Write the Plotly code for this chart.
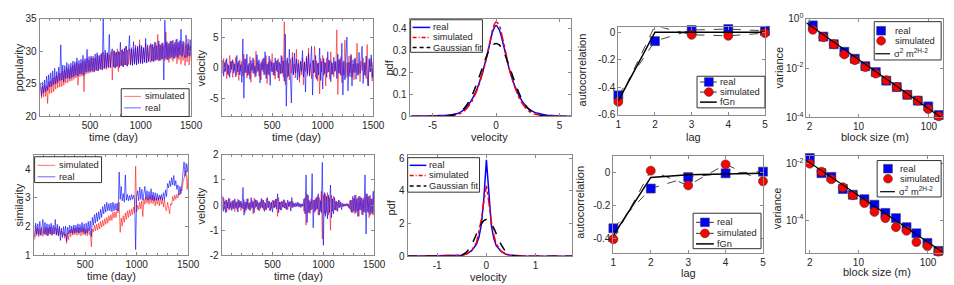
import numpy as np
import plotly.graph_objects as go

W, H = 954, 285
FONT = "Liberation Sans, Arial, sans-serif"
TXT = "#262626"

# ---------------- data ----------------
day_step = 10
pop_real = [25.0, 23.2, 25.3, 23.6, 25.6, 23.8, 26.2, 24.0, 26.4, 24.5,
            26.7, 24.6, 27.0, 24.9, 27.4, 25.0, 26.9, 25.2, 27.6, 25.5,
            31.0, 25.6, 27.9, 25.3, 27.8, 25.8, 28.3, 25.9, 28.0, 25.8,
            28.2, 26.0, 28.5, 26.1, 28.4, 26.3, 29.0, 26.2, 28.6, 26.5,
            28.8, 26.5, 29.4, 26.3, 28.9, 26.8, 30.3, 26.9, 29.2, 26.9,
            29.3, 27.0, 29.0, 26.8, 29.6, 27.1, 29.8, 27.0, 29.4, 27.3,
            29.7, 27.2, 35.0, 27.4, 30.2, 27.5, 29.8, 27.6, 32.6, 27.5,
            29.9, 30.4, 27.6, 30.1, 27.4, 29.9, 27.7, 30.0, 27.5, 31.4,
            27.8, 30.3, 27.6, 30.5, 27.9, 30.8, 27.7, 30.2, 32.4, 27.9,
            30.4, 27.8, 31.5, 28.0, 30.6, 27.9, 30.8, 28.1, 31.0, 28.2,
            30.9, 28.1, 30.6, 28.3, 32.0, 28.2, 31.0, 28.4, 30.5, 31.2,
            28.5, 31.1, 28.4, 31.4, 28.6, 30.9, 28.7, 31.6, 28.6, 31.0,
            28.8, 31.3, 25.6, 34.8, 28.9, 31.5, 28.7, 31.2, 29.0, 31.6,
            29.1, 31.7, 28.9, 31.4, 29.2, 31.9, 29.0, 31.5, 29.4, 33.4,
            29.2, 31.6, 29.5, 29.0, 32.5, 29.1, 31.2, 29.3, 31.8, 29.2]
pop_sim = [24.5, 22.8, 24.6, 23.0, 24.9, 23.1, 24.7, 22.0, 25.3, 23.5,
           25.5, 23.6, 25.9, 23.8, 26.1, 24.2, 26.3, 24.4, 26.6, 24.5,
           26.7, 24.6, 27.0, 24.8, 27.1, 25.1, 27.5, 25.2, 27.3, 25.4,
           27.6, 25.5, 27.9, 25.7, 28.0, 25.9, 28.3, 24.8, 28.1, 26.1,
           28.2, 26.2, 28.6, 23.8, 28.5, 26.5, 28.9, 26.6, 28.7, 26.7,
           29.0, 26.8, 29.3, 26.9, 29.0, 27.0, 29.4, 27.0, 29.2, 27.2,
           29.5, 27.1, 29.9, 27.3, 29.6, 27.2, 29.8, 27.4, 29.5, 27.5,
           29.9, 25.6, 30.1, 27.5, 29.8, 27.6, 30.4, 26.9, 29.9, 27.8,
           30.2, 27.7, 30.0, 27.9, 30.8, 27.8, 30.2, 28.0, 30.4, 27.9,
           30.6, 28.0, 30.3, 28.2, 31.0, 28.0, 30.5, 28.3, 31.8, 28.1,
           30.7, 28.3, 30.4, 28.4, 31.2, 28.3, 30.6, 28.5, 30.9, 28.3,
           31.0, 28.5, 30.7, 28.6, 31.4, 28.7, 32.6, 28.5, 31.1, 28.6,
           31.3, 28.8, 30.9, 28.6, 33.0, 28.7, 31.2, 28.3, 31.5, 28.8,
           31.6, 28.5, 31.1, 28.9, 31.8, 28.1, 31.3, 28.7, 31.7, 28.0,
           31.2, 28.6, 31.4, 27.8, 31.0, 28.4, 31.9, 27.9, 30.8, 28.5]
vel_pop_real = [1.2, -1.4, 0.8, -0.6, 1.5, -1.1, 0.4, -1.6, 1.0, -0.3,
                1.3, -0.9, 0.6, -1.5, 2.0, -0.7, 1.1, -1.2, 0.5, -2.4,
                4.7, -5.0, 1.4, -0.8, 2.2, -1.3, 0.7, -1.9, 1.2, -0.5,
                1.6, -1.0, 0.3, -1.4, 2.1, -0.6, 1.3, -2.5, 0.9, -0.4,
                1.5, -1.2, 2.6, -1.8, 0.6, -1.1, 1.9, -2.9, 1.0, -0.7,
                0.8, -1.3, 1.6, -0.5, 1.2, -1.7, 0.9, -1.0, 2.0, -0.9,
                1.1, -2.2, 5.5, -6.3, 1.6, -1.4, 3.0, -0.8, -5.8, 1.7,
                -1.2, 2.4, -0.9, 1.4, -2.0, 0.7, -1.6, 1.1, -0.6, 2.8,
                -1.5, 0.9, -4.0, 1.6, -1.0, 2.3, -1.4, 0.6, 3.5, -4.5,
                1.2, -0.8, 2.0, -1.9, 0.7, -1.2, 3.2, -2.1, 1.0, -3.5,
                1.5, -1.0, 0.8, -1.6, 2.6, -0.7, 1.2, -2.3, 0.9, -1.1,
                1.7, -0.6, 1.0, -1.8, 2.2, -0.9, 1.4, -1.3, 4.0, -4.5,
                1.1, -2.0, 1.8, 5.0, -3.8, 0.9, -1.5, 2.0, -3.0, 1.3,
                -0.8, 1.6, -1.9, 0.7, -1.2, 2.5, -0.9, 1.4, 3.5, -2.6,
                0.8, -1.3, 1.9, -1.0, -3.0, 1.5, -0.7, 2.1, -1.6, 1.0]
vel_pop_sim = [-1.0, 1.5, -0.7, 1.2, -1.8, 0.6, -1.3, 2.0, -0.8, 1.1,
               -1.6, 0.9, -0.5, 1.7, -1.2, 0.8, -2.1, 1.3, -0.6, 1.0,
               -1.4, 2.2, -0.9, 1.5, -1.7, 0.4, -1.1, 1.8, -2.4, 0.7,
               -0.9, 1.3, -1.6, 2.7, -0.8, 1.0, -1.4, 0.6, -2.0, 1.2,
               -0.7, 1.6, -1.1, 2.0, -2.6, 0.9, -1.3, 1.4, -0.6, 2.3,
               -1.2, 0.8, -1.9, 1.1, -0.7, 1.5, -2.2, 0.6, -1.0, 1.8,
               -1.5, 7.5, -2.8, 1.2, -1.6, 0.7, -2.0, 1.4, -0.9, 2.5,
               -1.1, 0.6, -1.7, 3.0, -0.8, 1.3, -2.4, 0.9, -1.2, 1.6,
               -2.8, 1.0, -0.6, 1.9, -1.4, 3.2, -1.0, 0.7, -1.8, 1.2,
               -0.9, 3.5, -1.6, 1.1, -2.2, 0.8, -4.3, 1.5, -0.7, 2.0,
               -1.3, 0.9, -3.0, 1.6, -0.8, 1.2, -1.9, 2.6, -1.1, 0.7,
               -1.5, 1.0, -0.6, 6.2, -4.4, 1.3, -1.0, 1.8, -2.5, 0.9,
               -1.2, 4.5, -1.7, 0.8, -1.4, 1.9, -0.9, 2.2, -1.6, 0.6,
               -2.0, 1.4, -0.8, 4.0, -1.3, 0.7, -2.3, 1.1, -0.5, 1.6,
               -1.2, 0.9, -1.8, 3.8, -3.0, 1.2, -0.7, 1.5, -2.2, 0.8]
simil_real = [1.65, 2.12, 1.75, 2.10, 1.72, 2.18, 1.70, 2.05, 2.25, 1.75,
              2.15, 1.72, 2.10, 1.68, 2.08, 1.75, 2.12, 1.70, 2.05, 1.74,
              2.25, 1.72, 2.08, 1.68, 2.02, 1.52, 1.95, 1.62, 2.00, 1.68,
              2.02, 1.50, 1.98, 1.75, 2.05, 1.78, 2.02, 1.75, 2.06, 1.78,
              2.05, 1.80, 2.10, 1.78, 2.08, 1.82, 2.15, 1.80, 2.10, 1.75,
              2.12, 1.78, 2.18, 1.85, 2.20, 1.65, 2.32, 2.05, 2.42, 2.12,
              2.48, 2.18, 2.52, 2.25, 2.60, 2.32, 2.70, 2.45, 2.78, 2.50,
              2.85, 2.55, 2.80, 2.55, 2.82, 2.52, 2.85, 2.55, 2.80, 2.58,
              2.82, 2.55, 3.90, 2.95, 3.40, 2.90, 3.15, 2.85, 3.80, 2.92,
              3.12, 2.90, 3.08, 2.92, 3.12, 2.95, 3.10, 2.95, 1.20, 3.05,
              3.25, 2.90, 3.38, 2.95, 3.30, 2.92, 3.22, 3.40, 2.95, 3.25,
              2.92, 3.22, 2.95, 3.32, 2.92, 3.20, 2.90, 3.18, 2.92, 3.15,
              2.92, 3.10, 2.95, 3.12, 2.92, 3.18, 2.95, 3.28, 3.05, 3.50,
              3.35, 3.60, 3.40, 3.70, 3.45, 3.78, 3.42, 3.60, 3.30, 3.45,
              3.10, 3.40, 3.15, 3.55, 3.90, 4.25, 3.75, 4.20, 3.90, 4.20]
simil_sim = [1.55, 1.98, 1.68, 1.95, 1.65, 1.92, 1.70, 1.98, 1.66, 1.92,
             1.72, 1.98, 1.68, 1.95, 1.74, 2.00, 1.70, 1.96, 1.75, 1.90,
             1.98, 1.70, 1.94, 1.68, 1.96, 1.72, 1.85, 1.70, 1.80, 1.60,
             1.75, 1.42, 1.78, 1.55, 1.88, 1.65, 1.92, 1.70, 1.96, 1.72,
             1.95, 1.70, 1.98, 1.72, 1.95, 1.68, 1.98, 1.72, 1.94, 1.70,
             1.90, 1.68, 1.95, 1.72, 1.85, 1.30, 1.92, 1.82, 2.05, 1.85,
             2.08, 1.88, 2.12, 1.92, 2.18, 1.98, 2.22, 2.02, 2.28, 2.08,
             2.32, 2.12, 2.38, 2.20, 2.42, 2.22, 2.50, 2.30, 2.52, 2.32,
             2.62, 2.48, 2.85, 1.80, 2.30, 2.02, 2.38, 2.15, 2.48, 2.25,
             2.55, 2.32, 2.58, 2.38, 2.62, 2.42, 2.68, 2.48, 4.10, 2.52,
             2.75, 2.60, 2.85, 2.62, 2.90, 2.35, 2.98, 2.78, 3.05, 2.82,
             3.02, 2.78, 3.08, 2.82, 3.10, 2.80, 3.05, 2.72, 3.00, 2.78,
             3.02, 2.72, 3.05, 2.78, 3.00, 2.68, 2.95, 2.62, 2.55, 2.85,
             2.68, 2.45, 2.80, 2.75, 3.05, 2.90, 3.10, 2.95, 3.12, 3.00,
             3.15, 3.10, 3.30, 3.25, 3.55, 3.70, 3.80, 3.95, 3.30, 3.80]
vel_sim_real = [0.35, -0.25, 0.15, -0.30, 0.20, -0.12, 0.28, -0.18, 0.10, -0.22,
                0.18, -0.15, 0.25, -0.10, 0.14, -0.28, 0.20, -0.08, 0.16, -0.12,
                0.70, -0.40, 0.12, -0.20, 0.25, -0.15, 0.08, -0.22, 0.30, -0.10,
                0.14, -0.30, 0.22, -0.06, 0.18, -0.20, 0.10, -0.14, 0.26, -0.12,
                0.20, -0.25, 0.08, -0.18, 0.30, -0.10, 0.15, -0.22, 0.12, -0.28,
                0.18, -0.10, 0.24, -0.16, 0.45, -0.30, 0.12, -0.20, 0.16, -0.08,
                0.22, -0.12, 0.10, -0.18, 0.20, -0.06, 0.14, -0.24, 0.30, -0.10,
                0.08, -0.06, 0.10, -0.05, 0.12, -0.08, 0.06, -0.10, 0.05, -0.04,
                0.25, -0.35, 1.20, -0.70, 0.40, -0.30, 0.15, -0.20, 1.25, -0.90,
                0.20, -0.25, 0.30, -0.15, 0.45, -0.40, 0.18, -0.30, 1.70, -1.60,
                0.50, -0.45, 0.35, -0.55, 0.40, -0.30, 0.80, -0.50, 0.25, -0.35,
                0.30, -0.20, 0.15, -0.25, 0.20, -0.10, 0.12, -0.18, 0.08, -0.06,
                0.05, -0.04, 0.06, -0.05, 0.04, -0.15, 0.20, -0.30, 0.35, -0.25,
                0.40, -0.30, 0.25, -0.45, 0.35, -0.20, 0.30, -0.38, 0.22, -0.28,
                1.20, -1.15, 0.45, -0.30, 0.35, -0.40, 0.25, -0.35, 0.55, -0.30]
vel_sim_sim = [-0.20, 0.30, -0.15, 0.22, -0.28, 0.12, -0.18, 0.25, -0.10, 0.16,
               -0.14, 0.20, -0.26, 0.10, -0.18, 0.24, -0.12, 0.15, -0.22, 0.08,
               -0.16, 0.22, -0.30, 0.14, -0.10, 0.26, -0.20, 0.12, -0.15, 0.18,
               -0.35, 0.28, -0.12, 0.20, -0.16, 0.10, -0.24, 0.15, -0.08, 0.22,
               -0.18, 0.12, -0.20, 0.26, -0.10, 0.16, -0.22, 0.08, -0.14, 0.20,
               -0.12, 0.18, -0.08, 0.25, -0.45, 0.30, -0.16, 0.12, -0.20, 0.14,
               -0.10, 0.20, -0.15, 0.08, -0.18, 0.12, -0.06, 0.16, -0.10, 0.14,
               -0.06, 0.05, -0.08, 0.06, -0.04, 0.07, -0.05, 0.04, -0.06, 0.05,
               -0.25, 0.30, -0.80, 0.45, -0.30, 0.20, -0.35, 0.25, -0.15, 0.20,
               -0.30, 0.25, -0.20, 0.35, -0.40, 0.30, -0.25, 0.55, -1.35, 0.40,
               -0.35, 0.45, -0.30, 0.50, -0.40, 0.30, -1.00, 0.40, -0.25, 0.35,
               -0.20, 0.15, -0.22, 0.12, -0.10, 0.18, -0.08, 0.06, -0.05, 0.04,
               -0.04, 0.05, -0.03, 0.06, -0.12, 0.18, -0.25, 0.20, -0.30, 0.28,
               -0.35, 0.40, -0.25, 0.30, -0.45, 0.35, -0.20, 0.28, -0.40, 0.30,
               -0.30, 0.45, -0.25, 0.35, -0.50, 0.40, -0.30, 0.25, -0.40, 0.60]

pdf1_x = [-6.7, -6, -5, -4.5, -4, -3.5, -3, -2.5, -2, -1.5, -1, -0.75, -0.5, -0.25, 0,
          0.25, 0.5, 0.75, 1, 1.5, 2, 2.5, 3, 3.5, 4, 4.5, 5, 5.9]
pdf1_real = [0.001, 0.002, 0.003, 0.004, 0.005, 0.008, 0.014, 0.032, 0.068, 0.125, 0.215, 0.27, 0.33, 0.39, 0.415,
             0.395, 0.345, 0.285, 0.225, 0.135, 0.075, 0.038, 0.02, 0.012, 0.006, 0.004, 0.002, 0.001]
pdf1_sim = [0.0, 0.001, 0.002, 0.002, 0.003, 0.005, 0.01, 0.025, 0.06, 0.12, 0.21, 0.27, 0.335, 0.40, 0.43,
            0.415, 0.36, 0.295, 0.225, 0.13, 0.065, 0.028, 0.012, 0.006, 0.003, 0.002, 0.001, 0.0]
pdf1_gauss = [0.0, 0.0, 0.0, 0.0003, 0.001, 0.005, 0.015, 0.038, 0.083, 0.153, 0.235, 0.274, 0.306, 0.326, 0.333,
              0.326, 0.306, 0.274, 0.235, 0.153, 0.083, 0.038, 0.015, 0.005, 0.001, 0.0003, 0.0, 0.0]

pdf2_x = [-1.6, -1.2, -0.8, -0.6, -0.5, -0.4, -0.3, -0.2, -0.15, -0.1, -0.05, 0,
          0.05, 0.1, 0.15, 0.2, 0.3, 0.4, 0.5, 0.6, 0.8, 1.2, 1.74]
pdf2_real = [0.0, 0.01, 0.02, 0.04, 0.07, 0.15, 0.35, 0.75, 1.2, 2.0, 3.6, 5.9,
             3.6, 1.9, 1.1, 0.65, 0.3, 0.13, 0.06, 0.04, 0.02, 0.01, 0.0]
pdf2_sim = [0.0, 0.01, 0.02, 0.04, 0.07, 0.14, 0.35, 0.85, 1.5, 2.3, 3.4, 4.3,
            3.3, 2.1, 1.3, 0.75, 0.3, 0.12, 0.06, 0.03, 0.015, 0.005, 0.0]
pdf2_gauss = [0.0, 0.0, 0.0, 0.02, 0.08, 0.28, 0.72, 1.38, 1.72, 2.0, 2.18, 2.25,
              2.18, 2.0, 1.72, 1.38, 0.72, 0.28, 0.08, 0.02, 0.0, 0.0, 0.0]

lags = [1, 2, 3, 4, 5]
ac1_real = [-0.46, -0.065, 0.016, 0.023, 0.01]
ac1_sim = [-0.507, 0.047, -0.019, -0.026, -0.007]
ac1_fgn = [-0.5, 0.0, 0.0, 0.0, 0.0]
ac2_real = [-0.338, -0.098, -0.029, -0.006, 0.004]
ac2_sim = [-0.404, 0.01, -0.079, 0.048, -0.054]
ac2_fgn = [-0.38, -0.031, -0.015, -0.008, -0.005]

m1 = [2.23, 3.15, 4.44, 6.27, 8.84, 12.5, 17.6, 24.8, 35.0, 49.4, 69.7, 98.3, 138.7]
var1_real = [0.54, 0.19, 0.093, 0.046, 0.024, 0.012, 0.0069, 0.0031, 0.0017, 0.00083, 0.00048, 0.00028, 0.000126]
var1_sim = [0.36, 0.18, 0.093, 0.036, 0.021, 0.011, 0.006, 0.0032, 0.0017, 0.00083, 0.00048, 0.00022, 0.000112]
fit1_m = [1.8, 150]
fit1_v = [0.69, 1.0e-4]
m2 = [2.0, 2.94, 4.08, 5.98, 8.3, 12.2, 17.0, 24.4, 34.6, 49.2, 68.2, 98.2, 141]
var2_real = [0.0158, 0.0046, 0.0034, 0.00126, 0.00079, 0.00055, 0.00035, 0.00018, 0.000117, 5.6e-5, 3.4e-5, 1.55e-5, 8.1e-6]
var2_sim = [0.01, 0.0052, 0.0028, 0.00145, 0.00076, 0.0004, 0.000195, 0.000117, 5.6e-5, 4.2e-5, 1.66e-5, 1.2e-5, 7.6e-6]
fit2_m = [1.79, 160]
fit2_v = [0.0129, 7.6e-6]

days = np.arange(1, len(pop_real) + 1) * day_step

RED_T = "rgba(255,0,0,0.55)"
BLUE_T = "rgba(0,0,255,0.6)"

fig = go.Figure()

def ax(n):
    return ("x" if n == 1 else f"x{n}"), ("y" if n == 1 else f"y{n}")

def add(n, clip=True, **kw):
    xa, ya = ax(n)
    fig.add_trace(go.Scatter(xaxis=xa, yaxis=ya, showlegend=False, hoverinfo="skip",
                             cliponaxis=clip, **kw))

SQ = dict(symbol="square", size=9, color="#0000ff", line=dict(color="#444", width=0.6))
CI = dict(symbol="circle", size=9, color="#ff0000", line=dict(color="#333", width=0.6))

# panel 1 popularity
add(1, x=days, y=pop_sim, mode="lines", line=dict(color=RED_T, width=1))
add(1, x=days, y=pop_real, mode="lines", line=dict(color=BLUE_T, width=1))
# panel 2 velocity
add(2, x=days, y=vel_pop_sim, mode="lines", line=dict(color=RED_T, width=1))
add(2, x=days, y=vel_pop_real, mode="lines", line=dict(color=BLUE_T, width=1))
# panel 3 pdf
add(3, x=pdf1_x, y=pdf1_real, mode="lines", line=dict(color="#0000ff", width=1.5, shape="spline"))
add(3, x=pdf1_x, y=pdf1_sim, mode="lines", line=dict(color="#ff0000", width=1.5, dash="dashdot", shape="spline"))
add(3, x=pdf1_x, y=pdf1_gauss, mode="lines", line=dict(color="#000000", width=1.5, dash="dash", shape="spline"))
# panel 4 autocorrelation
add(4, clip=False, x=lags, y=ac1_real, mode="lines+markers", line=dict(color="#444", width=1, dash="dash"), marker=SQ)
add(4, clip=False, x=lags, y=ac1_sim, mode="lines+markers", line=dict(color="#444", width=1, dash="dash"), marker=CI)
add(4, x=lags, y=ac1_fgn, mode="lines", line=dict(color="#000", width=1.5))
# panel 5 variance
add(5, clip=False, x=m1, y=var1_real, mode="markers", marker=SQ)
add(5, clip=False, x=m1, y=var1_sim, mode="markers", marker=CI)
add(5, x=fit1_m, y=fit1_v, mode="lines", line=dict(color="#000", width=1.2))
# panel 6 similarity
add(6, x=days, y=simil_sim, mode="lines", line=dict(color=RED_T, width=1))
add(6, x=days, y=simil_real, mode="lines", line=dict(color=BLUE_T, width=1))
# panel 7 velocity
add(7, x=days, y=vel_sim_sim, mode="lines", line=dict(color=RED_T, width=1))
add(7, x=days, y=vel_sim_real, mode="lines", line=dict(color=BLUE_T, width=1))
# panel 8 pdf
add(8, x=pdf2_x, y=pdf2_real, mode="lines", line=dict(color="#0000ff", width=1.5))
add(8, x=pdf2_x, y=pdf2_sim, mode="lines", line=dict(color="#ff0000", width=1.5, dash="dashdot"))
add(8, x=pdf2_x, y=pdf2_gauss, mode="lines", line=dict(color="#000000", width=1.5, dash="dash", shape="spline"))
# panel 9 autocorrelation
add(9, clip=False, x=lags, y=ac2_real, mode="lines+markers", line=dict(color="#444", width=1, dash="dash"), marker=SQ)
add(9, clip=False, x=lags, y=ac2_sim, mode="lines+markers", line=dict(color="#444", width=1, dash="dash"), marker=CI)
add(9, x=lags, y=ac2_fgn, mode="lines", line=dict(color="#000", width=1.5))
# panel 10 variance
add(10, clip=False, x=m2, y=var2_real, mode="markers", marker=SQ)
add(10, clip=False, x=m2, y=var2_sim, mode="markers", marker=CI)
add(10, x=fit2_m, y=fit2_v, mode="lines", line=dict(color="#000", width=1.2))

# ---------------- axes ----------------
boxes = {
    1: (29, 183, 5, 107), 2: (214, 368, 5, 107), 3: (405, 569, 5, 107),
    4: (617, 766, 14, 105), 5: (808, 947, 5, 108),
    6: (23, 180, 147, 252), 7: (214, 369, 147, 252), 8: (403, 570, 147, 253),
    9: (612, 764, 148, 250), 10: (808, 947, 148, 249),
}

def base(**kw):
    d = dict(showline=True, linecolor="#8a8a8a", linewidth=1, mirror="ticks", ticks="inside",
             ticklen=3, tickcolor="#8a8a8a", tickfont=dict(size=10, color=TXT, family=FONT),
             showgrid=False, zeroline=False, fixedrange=True)
    d.update(kw)
    return d

def lab(vals):
    return [("-" + str(abs(v))) if v < 0 else str(v) for v in vals]

time_x = dict(range=[0, 1500], tickvals=[500, 1000, 1500], ticktext=["500", "1000", "1500"],
              minor=dict(ticks="inside", ticklen=2, tickcolor="#8a8a8a", dtick=100))
xcfg = {
    1: time_x, 2: time_x, 6: time_x, 7: time_x,
    3: dict(range=[-6.8, 5.9], tickvals=[-5, 0, 5], ticktext=lab([-5, 0, 5])),
    8: dict(range=[-1.6, 1.74], tickvals=[-1, 0, 1], ticktext=lab([-1, 0, 1])),
    4: dict(range=[1, 5], tickvals=lags, ticktext=[str(v) for v in lags]),
    9: dict(range=[1, 5], tickvals=lags, ticktext=[str(v) for v in lags]),
    5: dict(type="log", range=[np.log10(1.8), np.log10(160)], tickvals=[2, 10, 100], ticktext=["2", "10", "100"]),
    10: dict(type="log", range=[np.log10(1.78), np.log10(165)], tickvals=[2, 10, 100], ticktext=["2", "10", "100"]),
}
ycfg = {
    1: dict(range=[20, 35], tickvals=[20, 25, 30, 35], ticktext=["20", "25", "30", "35"]),
    2: dict(range=[-8, 8], tickvals=[-5, 0, 5], ticktext=lab([-5, 0, 5])),
    3: dict(range=[0, 0.445], tickvals=[0, 0.1, 0.2, 0.3, 0.4], ticktext=["0", "0.1", "0.2", "0.3", "0.4"]),
    4: dict(range=[-0.6, 0.035], tickvals=[-0.6, -0.4, -0.2, 0], ticktext=lab([-0.6, -0.4, -0.2, 0])),
    5: dict(type="log", range=[-4, 0], tickvals=[1e-4, 1e-2, 1],
            ticktext=["10<sup>-4</sup>", "10<sup>-2</sup>", "10<sup>0</sup>"]),
    6: dict(range=[1, 4.5], tickvals=[1, 2, 3, 4], ticktext=["1", "2", "3", "4"]),
    7: dict(range=[-2, 2], tickvals=[-2, -1, 0, 1, 2], ticktext=lab([-2, -1, 0, 1, 2])),
    8: dict(range=[0, 6.2], tickvals=[0, 2, 4, 6], ticktext=["0", "2", "4", "6"]),
    9: dict(range=[-0.49, 0.1], tickvals=[-0.4, -0.2, 0], ticktext=lab([-0.4, -0.2, 0])),
    10: dict(type="log", range=[-5.15, -1.72], tickvals=[1e-4, 1e-2],
             ticktext=["10<sup>-4</sup>", "10<sup>-2</sup>"]),
}

layout_axes = {}
for n, (l, r, t, b) in boxes.items():
    xa = "xaxis" if n == 1 else f"xaxis{n}"
    ya = "yaxis" if n == 1 else f"yaxis{n}"
    xid, yid = ax(n)
    layout_axes[xa] = base(domain=[l / W, r / W], anchor=yid, **xcfg[n])
    layout_axes[ya] = base(domain=[1 - b / H, 1 - t / H], anchor=xid, **ycfg[n])

# ---------------- annotations / legends ----------------
shapes, annos = [], []
LS = 9.3

def text(x, y, s, rot=False, anchor="center", size=11):
    annos.append(dict(xref="paper", yref="paper", x=x / W, y=1 - y / H, text=s, showarrow=False,
                      xanchor=anchor, yanchor="middle", textangle=-90 if rot else 0,
                      font=dict(size=size, color=TXT, family=FONT)))

def box(x0, y0, x1, y1):
    shapes.append(dict(type="rect", xref="paper", yref="paper", x0=x0 / W, x1=x1 / W,
                       y0=1 - y1 / H, y1=1 - y0 / H, line=dict(color="#333", width=1),
                       fillcolor="white", layer="above"))

def seg(x0, x1, y, color, width=1, dash="solid"):
    shapes.append(dict(type="line", xref="paper", yref="paper", x0=x0 / W, x1=x1 / W,
                       y0=1 - y / H, y1=1 - y / H, line=dict(color=color, width=width, dash=dash),
                       layer="above"))

def sq(cx, cy, s=9):
    shapes.append(dict(type="rect", xref="paper", yref="paper", x0=(cx - s / 2) / W, x1=(cx + s / 2) / W,
                       y0=1 - (cy + s / 2) / H, y1=1 - (cy - s / 2) / H,
                       line=dict(color="#444", width=0.6), fillcolor="#0000ff", layer="above"))

def circ(cx, cy, s=9):
    shapes.append(dict(type="circle", xref="paper", yref="paper", x0=(cx - s / 2) / W, x1=(cx + s / 2) / W,
                       y0=1 - (cy + s / 2) / H, y1=1 - (cy - s / 2) / H,
                       line=dict(color="#333", width=0.6), fillcolor="#ff0000", layer="above"))

# axis titles
text(8, 56, "popularity", rot=True)
text(104, 128, "time (day)")
text(193, 56, "velocity", rot=True)
text(290, 128, "time (day)")
text(384, 56, "pdf", rot=True)
text(486, 128, "velocity")
text(580, 58, "autocorrelation", rot=True)
text(693, 128, "lag")
text(780, 56, "variance", rot=True)
text(878, 128, "block size (m)")
text(8, 199, "similarity", rot=True)
text(102, 274, "time (day)")
text(193, 200, "velocity", rot=True)
text(292, 274, "time (day)")
text(387, 202, "pdf", rot=True)
text(485, 275, "velocity")
text(578, 196, "autocorrelation", rot=True)
text(688, 270, "lag")
text(779, 203, "variance", rot=True)
text(880, 269, "block size (m)")

# legend 1
box(112, 78, 181, 107)
seg(115, 132, 86, RED_T); text(134, 86, "simulated", anchor="left", size=LS)
seg(115, 132, 98, BLUE_T); text(134, 98, "real", anchor="left", size=LS)
# legend 6
box(24, 149, 92, 176)
seg(27, 45, 158, RED_T); text(47, 158, "simulated", anchor="left", size=LS)
seg(27, 45, 170, BLUE_T); text(47, 170, "real", anchor="left", size=LS)
# legend 3
box(406, 6, 479, 40)
seg(408, 426, 14, "#0000ff", 1.5); text(427, 14, "real", anchor="left", size=LS)
seg(408, 426, 24.5, "#ff0000", 1.5, "4px,2px,1px,2px"); text(427, 24.5, "simulated", anchor="left", size=LS)
seg(408, 426, 35, "#000", 1.5, "4px,3px"); text(427, 35, "Gaussian fit", anchor="left", size=LS)
# legend 8
box(403, 150, 476, 186)
seg(405, 422, 158, "#0000ff", 1.5); text(423, 158, "real", anchor="left", size=LS)
seg(405, 422, 168.5, "#ff0000", 1.5, "4px,2px,1px,2px"); text(423, 168.5, "simulated", anchor="left", size=LS)
seg(405, 422, 179.5, "#000", 1.5, "4px,3px"); text(423, 179.5, "Gaussian fit", anchor="left", size=LS)
# legend 4
box(697, 65, 766, 98)
seg(700, 717, 71, "#333"); sq(709, 71); text(718, 71, "real", anchor="left", size=LS)
seg(700, 717, 81.5, "#333"); circ(709, 81.5); text(718, 81.5, "simulated", anchor="left", size=LS)
seg(700, 717, 92, "#000", 1.5); text(718, 92, "fGn", anchor="left", size=LS)
# legend 9
box(693, 208, 762, 245)
seg(696, 714, 217.5, "#333"); sq(705, 217.5); text(715, 217.5, "real", anchor="left", size=LS)
seg(696, 714, 229, "#333"); circ(705, 229); text(715, 229, "simulated", anchor="left", size=LS)
seg(696, 714, 240, "#000", 1.5); text(715, 240, "fGn", anchor="left", size=LS)
# legend 5
box(877, 8, 945, 48)
sq(884, 17.5); text(896, 17.5, "real", anchor="left", size=LS)
circ(884, 28); text(896, 28, "simulated", anchor="left", size=LS)
seg(878, 893, 41.5, "#000", 1.2); text(895, 40.5, "σ<sup>2</sup> m<sup>2H-2</sup>", anchor="left", size=LS)
# legend 10
box(880, 153, 945, 191)
sq(891, 161.5); text(901, 161.5, "real", anchor="left", size=LS)
circ(891, 172); text(901, 172, "simulated", anchor="left", size=LS)
seg(883, 898, 185.5, "#000", 1.2); text(900, 184.5, "σ<sup>2</sup> m<sup>2H-2</sup>", anchor="left", size=LS)

fig.update_layout(
    width=W, height=H, margin=dict(l=0, r=0, t=0, b=0),
    paper_bgcolor="white", plot_bgcolor="white", showlegend=False,
    font=dict(family=FONT, color=TXT), shapes=shapes, annotations=annos, **layout_axes,
)
fig.write_html("out.html")
